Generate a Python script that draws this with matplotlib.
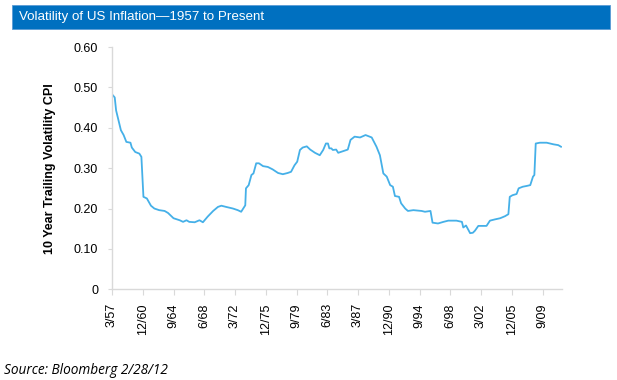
import matplotlib
matplotlib.use("Agg")
import matplotlib.pyplot as plt
from matplotlib.patches import Rectangle

# months since 3/57
months = [0, 4, 6, 10, 13, 17, 21, 27, 29, 34, 40, 43, 46, 51, 57, 62, 69, 77, 82, 90,
          99, 104, 109, 113, 121, 128, 133, 140, 148, 155, 160, 167, 177, 184, 189, 195,
          196, 200, 204, 207, 211, 215, 221, 228, 235, 243, 250, 257, 262, 267, 271, 275,
          279, 285, 290, 297, 304, 309, 313, 316, 318, 321, 323, 328, 331, 338, 345, 349,
          355, 363, 371, 380, 387, 392, 397, 402, 407, 411, 414, 420, 423, 429, 433, 441,
          453, 458, 466, 469, 477, 485, 492, 504, 512, 514, 518, 524, 528, 531, 536, 548,
          553, 560, 568, 575, 580, 582, 586, 592, 595, 601, 607, 612, 616, 618, 620, 626,
          636, 646, 653, 657]
volatility = [0.483, 0.475, 0.443, 0.415, 0.394, 0.382, 0.365, 0.363, 0.351, 0.340, 0.336,
              0.328, 0.229, 0.225, 0.207, 0.200, 0.196, 0.194, 0.189, 0.176, 0.171, 0.167,
              0.171, 0.167, 0.166, 0.171, 0.166, 0.180, 0.194, 0.204, 0.207, 0.204, 0.200,
              0.196, 0.192, 0.208, 0.250, 0.258, 0.283, 0.287, 0.312, 0.312, 0.305, 0.303,
              0.297, 0.288, 0.285, 0.288, 0.291, 0.307, 0.316, 0.345, 0.351, 0.354, 0.346,
              0.338, 0.332, 0.345, 0.361, 0.361, 0.349, 0.349, 0.345, 0.346, 0.338, 0.342,
              0.346, 0.370, 0.378, 0.376, 0.382, 0.376, 0.353, 0.332, 0.287, 0.279, 0.258,
              0.254, 0.231, 0.229, 0.213, 0.200, 0.194, 0.196, 0.194, 0.192, 0.194, 0.165,
              0.163, 0.167, 0.170, 0.170, 0.167, 0.153, 0.158, 0.139, 0.140, 0.145, 0.157,
              0.157, 0.170, 0.173, 0.176, 0.181, 0.186, 0.229, 0.233, 0.236, 0.250, 0.254,
              0.256, 0.258, 0.279, 0.283, 0.361, 0.363, 0.363, 0.359, 0.357, 0.353]

tick_months = [0, 45, 90, 135, 180, 225, 270, 315, 360, 405, 450, 495, 540, 585, 630]
tick_labels = ["3/57", "12/60", "9/64", "6/68", "3/72", "12/75", "9/79", "6/83", "3/87",
               "12/90", "9/94", "6/98", "3/02", "12/05", "9/09"]
y_ticks = [0, 0.1, 0.2, 0.3, 0.4, 0.5, 0.6]
y_labels = ["0", "0.10", "0.20", "0.30", "0.40", "0.50", "0.60"]

title = "Volatility of US Inflation\u20141957 to Present"
ylabel = "10 Year Trailing Volatility CPI"
source = "Source: Bloomberg 2/28/12"

plt.rcParams['font.family'] = ['Liberation Sans', 'DejaVu Sans']

W, H = 617, 380
fig = plt.figure(figsize=(W / 100, H / 100), dpi=100)

# title bar
fig.patches.append(Rectangle((12 / W, 1 - 29 / H), (610 - 12) / W, 24 / H,
                             transform=fig.transFigure, facecolor="#0070C0",
                             edgecolor="#5b9bd5", linewidth=0.6, zorder=0))
fig.text(19 / W, 1 - 17 / H, title, color="white", fontsize=9.6, va="center", ha="left")

ax = fig.add_axes([112 / W, 1 - 289.3 / H, (561.7 - 112) / W, (289.3 - 47) / H])
ax.plot(months, volatility, color="#45b0e8", linewidth=1.3)
ax.set_xlim(0, 658)
ax.set_ylim(0, 0.6)
ax.set_yticks(y_ticks)
ax.set_yticklabels(y_labels)
ax.set_xticks(tick_months)
ax.set_xticklabels(tick_labels, rotation=90)
for s in ["top", "right"]:
    ax.spines[s].set_visible(False)
for s in ["left", "bottom"]:
    ax.spines[s].set_color("#d9d9d9")
    ax.spines[s].set_linewidth(1.0)
ax.tick_params(axis="y", length=3, color="#d9d9d9", labelsize=9, pad=7)
ax.tick_params(axis="x", length=4, color="#d9d9d9", labelsize=9, pad=6)
ax.set_ylabel(ylabel, fontsize=9, fontweight="bold", labelpad=13)

fig.text(4 / W, 1 - 371 / H, source, fontsize=9.8, style="italic", va="center",
         ha="left", family=["Open Sans", "DejaVu Sans"])

fig.savefig("out.png", dpi=100)
